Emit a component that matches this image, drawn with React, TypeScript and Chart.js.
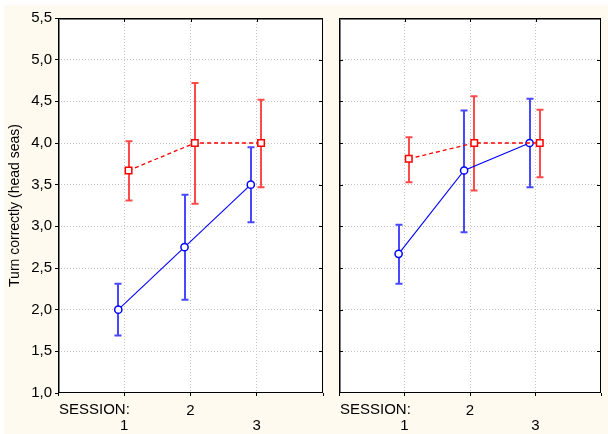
import React, { useEffect, useRef } from "react";
import { Chart, registerables } from "chart.js";

Chart.register(...registerables);

// ---- data ----
const sessions = [1, 2, 3];
const sessionAxisLabel = "SESSION:";
const yTitle = "Turn correctly (head seas)";

const leftRedMean = [3.67, 4.0, 4.0];
const leftRedLow = [3.31, 3.27, 3.47];
const leftRedHigh = [4.02, 4.72, 4.52];
const leftBlueMean = [2.0, 2.75, 3.5];
const leftBlueLow = [1.69, 2.12, 3.05];
const leftBlueHigh = [2.31, 3.38, 3.95];

const rightRedMean = [3.81, 4.0, 4.0];
const rightRedLow = [3.53, 3.43, 3.59];
const rightRedHigh = [4.07, 4.56, 4.4];
const rightBlueMean = [2.67, 3.67, 4.0];
const rightBlueLow = [2.31, 2.93, 3.47];
const rightBlueHigh = [3.02, 4.39, 4.53];

const yMin = 1.0;
const yMax = 5.5;
const yStep = 0.5;

// ---- styles ----
const FONT = "'Liberation Sans', Arial, sans-serif";
const BLUE = "#0000ff";
const RED = "#ff0000";
const BLUE_BAR = "#4848ff";
const RED_BAR = "#ff4a4a";
const GRID = "#c4c4c4";
const BLUE_OFF = -0.09;
const RED_OFF = 0.065;

type Panel = {
  redMean: number[];
  redLow: number[];
  redHigh: number[];
  blueMean: number[];
  blueLow: number[];
  blueHigh: number[];
};

function makeConfig(p: Panel, isLeft: boolean): any {
  const blueData = sessions.map((s, i) => ({ x: s + BLUE_OFF, y: p.blueMean[i] }));
  const redData = sessions.map((s, i) => ({ x: s + RED_OFF, y: p.redMean[i] }));

  const plugin = {
    id: "decor" + (isLeft ? "L" : "R"),
    beforeDraw(chart: any) {
      const { ctx, chartArea: a } = chart;
      ctx.save();
      ctx.fillStyle = "#ffffff";
      ctx.fillRect(a.left, a.top, a.right - a.left, a.bottom - a.top);
      ctx.restore();
    },
    beforeDatasetsDraw(chart: any) {
      const { ctx } = chart;
      const xs = chart.scales.x;
      const ys = chart.scales.y;
      const bars = [
        { off: BLUE_OFF, low: p.blueLow, high: p.blueHigh, color: BLUE_BAR },
        { off: RED_OFF, low: p.redLow, high: p.redHigh, color: RED_BAR },
      ];
      ctx.save();
      ctx.lineWidth = 2;
      bars.forEach((b) => {
        ctx.strokeStyle = b.color;
        sessions.forEach((s, i) => {
          const x = Math.round(xs.getPixelForValue(s + b.off));
          const y1 = ys.getPixelForValue(b.low[i]);
          const y2 = ys.getPixelForValue(b.high[i]);
          ctx.beginPath();
          ctx.moveTo(x, y1);
          ctx.lineTo(x, y2);
          ctx.moveTo(x - 3.5, y1);
          ctx.lineTo(x + 3.5, y1);
          ctx.moveTo(x - 3.5, y2);
          ctx.lineTo(x + 3.5, y2);
          ctx.stroke();
        });
      });
      ctx.restore();
    },
    afterDraw(chart: any) {
      const { ctx, chartArea: a } = chart;
      const xs = chart.scales.x;
      const ys = chart.scales.y;
      ctx.save();
      // frame
      ctx.strokeStyle = "#7a7a7a";
      ctx.lineWidth = 1;
      ctx.strokeRect(a.left + 1.5, a.top + 1.5, a.right - a.left - 2, a.bottom - a.top - 2);
      ctx.strokeStyle = "#000000";
      ctx.strokeRect(a.left + 0.5, a.top + 0.5, a.right - a.left - 1, a.bottom - a.top - 1);
      // inward ticks
      ctx.beginPath();
      for (let v = yMin + yStep; v < yMax - 1e-9; v += yStep) {
        const y = Math.round(ys.getPixelForValue(v)) + 0.5;
        ctx.moveTo(a.right - 4, y);
        ctx.lineTo(a.right, y);
        if (!isLeft) {
          ctx.moveTo(a.left, y);
          ctx.lineTo(a.left + 4, y);
        }
      }
      sessions.forEach((s) => {
        const x = Math.round(xs.getPixelForValue(s)) + 0.5;
        ctx.moveTo(x, a.top);
        ctx.lineTo(x, a.top + 4);
      });
      ctx.stroke();
      // SESSION: label
      ctx.fillStyle = "#000";
      ctx.font = `15px ${FONT}`;
      ctx.textAlign = "left";
      ctx.textBaseline = "middle";
      ctx.fillText(sessionAxisLabel, a.left + 1, a.bottom + 17);
      ctx.restore();
    },
  };

  return {
    type: "scatter",
    data: {
      datasets: [
        {
          data: redData,
          showLine: true,
          borderColor: RED,
          borderWidth: 1.3,
          borderDash: [4, 3],
          pointStyle: "rect",
          pointRadius: 4.6,
          pointBackgroundColor: "#ffffff",
          pointBorderColor: RED,
          pointBorderWidth: 1.5,
        },
        {
          data: blueData,
          showLine: true,
          borderColor: BLUE,
          borderWidth: 1.1,
          pointStyle: "circle",
          pointRadius: 3.6,
          pointBackgroundColor: "#ffffff",
          pointBorderColor: BLUE,
          pointBorderWidth: 1.5,
        },
      ],
    },
    options: {
      animation: false,
      responsive: false,
      maintainAspectRatio: false,
      layout: {
        padding: isLeft
          ? { left: 0, right: 6, top: 18, bottom: 0 }
          : { left: 0, right: 4, top: 18, bottom: 0 },
      },
      plugins: {
        legend: { display: false },
        tooltip: { enabled: false },
      },
      scales: {
        x: {
          type: "linear",
          min: 0,
          max: 4,
          afterFit: (s: any) => {
            s.height = 41;
          },
          afterBuildTicks: (s: any) => {
            s.ticks = [0, 1, 2, 3, 4].map((v) => ({ value: v }));
          },
          ticks: {
            stepSize: 1,
            autoSkip: false,
            maxRotation: 0,
            minRotation: 0,
            padding: 7,
            color: "#000",
            font: { family: FONT, size: 15, lineHeight: 1.0 },
            callback: (v: number) => {
              const i = sessions.indexOf(v);
              if (i < 0) return "";
              return i % 2 === 1 ? [String(v)] : ["", String(v)];
            },
          },
          grid: {
            color: (c: any) =>
              c.tick && (c.tick.value === 0 || c.tick.value === 4) ? "rgba(0,0,0,0)" : GRID,
            drawTicks: true,
            tickLength: 3,
            tickColor: "#000",
          },
          border: { display: false, dash: [1, 2] },
        },
        y: {
          type: "linear",
          min: yMin,
          max: yMax,
          afterFit: (s: any) => {
            s.width = isLeft ? 58 : 9;
          },
          ticks: {
            stepSize: yStep,
            display: isLeft,
            padding: 3,
            color: "#000",
            font: { family: FONT, size: 15 },
            callback: (v: number) => v.toFixed(1).replace(".", ","),
          },
          title: {
            display: isLeft,
            text: yTitle,
            color: "#000",
            font: { family: FONT, size: 14 },
            padding: { top: 7, bottom: 0 },
          },
          grid: {
            color: (c: any) =>
              c.tick && (c.tick.value === yMin || c.tick.value === yMax) ? "rgba(0,0,0,0)" : GRID,
            drawTicks: isLeft,
            tickLength: 3,
            tickColor: "#000",
          },
          border: { display: false, dash: [1, 2] },
        },
      },
    },
    plugins: [plugin],
  };
}

function ChartCanvas(props: { panel: Panel; isLeft: boolean; width: number; left: number }) {
  const ref = useRef<HTMLCanvasElement | null>(null);
  useEffect(() => {
    if (!ref.current) return;
    const chart = new Chart(ref.current, makeConfig(props.panel, props.isLeft));
    return () => chart.destroy();
  }, []);
  return (
    <canvas
      ref={ref}
      width={props.width}
      height={434}
      style={{ position: "absolute", left: props.left, top: 0, width: props.width, height: 434 }}
    />
  );
}

const leftPanel: Panel = {
  redMean: leftRedMean,
  redLow: leftRedLow,
  redHigh: leftRedHigh,
  blueMean: leftBlueMean,
  blueLow: leftBlueLow,
  blueHigh: leftBlueHigh,
};
const rightPanel: Panel = {
  redMean: rightRedMean,
  redLow: rightRedLow,
  redHigh: rightRedHigh,
  blueMean: rightBlueMean,
  blueLow: rightBlueLow,
  blueHigh: rightBlueHigh,
};

export default function App() {
  return (
    <div
      style={{
        position: "absolute",
        left: 0,
        top: 0,
        width: 608,
        height: 434,
        background: "#ffffff",
        overflow: "hidden",
      }}
    >
      <div
        style={{
          position: "absolute",
          left: 4,
          top: 5,
          width: 604,
          height: 429,
          background: "#fffaf0",
        }}
      />
      <ChartCanvas panel={leftPanel} isLeft={true} width={330} left={0} />
      <ChartCanvas panel={rightPanel} isLeft={false} width={278} left={330} />
    </div>
  );
}
